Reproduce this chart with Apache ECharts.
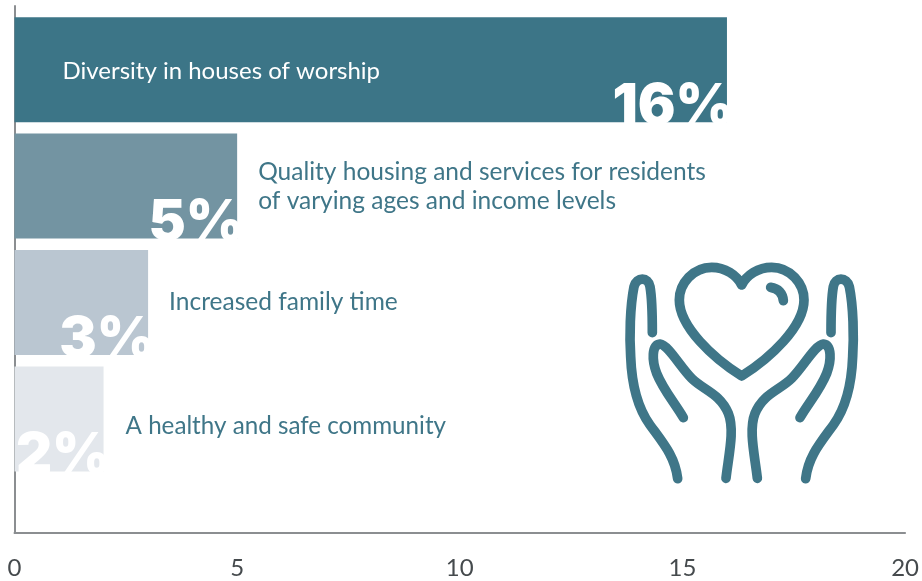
<!DOCTYPE html>
<html><head><meta charset="utf-8">
<style>html,body{margin:0;padding:0;background:#fff}#c{width:922px;height:581px}</style>
<script src="https://cdn.jsdelivr.net/npm/echarts@6/dist/echarts.min.js"></script>
</head><body><div id="c"></div>
<script>
const categories = ['Diversity in houses of worship','Quality housing and services for residents\nof varying ages and income levels','Increased family time','A healthy and safe community'];
const values = [16,5,3,2];
const rows = [0,1,2,3];
const barColors = ['#3c7587','#7394a2','#bac6d1','#e3e7ec'];
const xTicks = [0,5,10,15,20];
const textFont = 'Lato, "Open Sans", sans-serif';
const teal = '#3f7688';

const chart = echarts.init(document.getElementById('c'));
const heart = 'M425,105 C410,75 375,52 335,52 C280,52 238,100 238,150 C238,230 340,325 425,378 C510,325 612,230 612,150 C612,100 570,52 515,52 C475,52 440,75 425,105';
const shine = 'M512,112 C535,115 548,130 550,152';
const outer = 'M157,248 C157,200 157,150 150,110 C145,80 110,80 102,110 C90,170 88,260 92,320 C95,400 110,470 150,525 C190,580 225,620 233,686';
const inner = 'M250,503 C225,460 190,420 170,370 C155,330 155,285 180,282 C205,285 240,350 275,385 C310,420 360,430 385,490 C405,540 385,620 378,685';
const st = {fill:'none',stroke:teal,lineWidth:29,lineCap:'round',lineJoin:'round'};
const pathEl = (d)=>({type:'path',shape:{pathData:d},style:st});
const barH = 105;
chart.setOption({
  animation:false,
  grid:{left:14.5,right:16,top:6,bottom:48,containLabel:false},
  xAxis:{type:'value',min:xTicks[0],max:xTicks[xTicks.length-1],interval:xTicks[1]-xTicks[0],splitLine:{show:false},axisTick:{show:false},
    axisLine:{show:true,onZero:false,lineStyle:{color:'#8b8e91',width:2}},
    axisLabel:{color:'#454a4d',fontSize:24,fontFamily:textFont,margin:23,showMinLabel:true,showMaxLabel:true}},
  yAxis:{type:'value',inverse:true,min:-0.547,max:3.98,axisLabel:{show:false},axisTick:{show:false},splitLine:{show:false},
    axisLine:{show:true,onZero:false,lineStyle:{color:'#8b8e91',width:2}}},
  series:[
    {type:'custom',clip:false,encode:{x:0,y:1},
      data:values.map((v,i)=>[v,rows[i]]),
      renderItem:(params,api)=>{
        const v=api.value(0), r=api.value(1), i=params.dataIndex;
        const a=api.coord([0,r]), b=api.coord([v,r]);
        return {type:'group',children:[
          {type:'rect',shape:{x:a[0],y:a[1]-barH/2,width:b[0]-a[0],height:barH},style:{fill:barColors[i]}},
          {type:'text',style:{x:b[0]+7,y:a[1]+barH/2-15,text:v+'%',fill:'#fff',align:'right',verticalAlign:'middle',
            fontFamily:'Inter, "Open Sans", sans-serif',fontWeight:900,fontSize:56}}
        ]};
      }},
    {type:'scatter',symbolSize:0,clip:false,itemStyle:{opacity:1},
      data:values.map((v,i)=>({value:i===0?[0,rows[i]]:[v,rows[i]],name:categories[i],
        label:{distance:i===0?48:(i===3?22:21),color:i===0?'#fff':teal,offset:[0,[2,1,0,7][i]],fontSize:[24,24.5,24.5,24.2][i]}})),
      label:{show:true,position:'right',fontFamily:textFont,fontSize:24.5,lineHeight:29,
        formatter:o=>o.name}},
    {type:'custom',coordinateSystem:'none',silent:true,data:[0],
      renderItem:()=>({type:'group',x:600,y:250,scaleX:1/3,scaleY:1/3,children:[pathEl(heart),pathEl(shine),pathEl(outer),pathEl(inner),
        {type:'group',x:850,scaleX:-1,children:[pathEl(outer),pathEl(inner)]}]})}
  ]
});
</script></body></html>
